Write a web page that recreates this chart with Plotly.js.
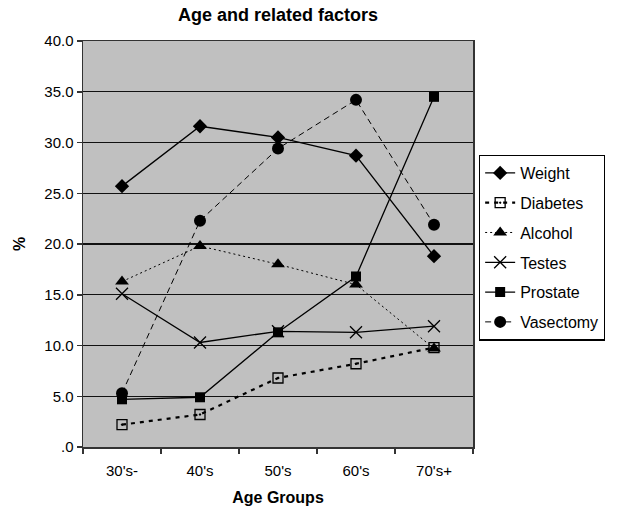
<!DOCTYPE html>
<html>
<head>
<meta charset="utf-8">
<script src="https://cdn.plot.ly/plotly-3.0.1.min.js"></script>
<style>html,body{margin:0;padding:0;background:#fff;}#chart{width:624px;height:506px;}</style>
</head>
<body>
<div id="chart"></div>
<script>
const categories = ["30's-", "40's", "50's", "60's", "70's+"];
const weight     = [25.7, 31.6, 30.5, 28.7, 18.8];
const diabetes   = [2.2, 3.2, 6.8, 8.2, 9.8];
const alcohol    = [16.3, 19.8, 18.0, 16.0, 9.7];
const testes     = [15.1, 10.3, 11.4, 11.3, 11.9];
const prostate   = [4.7, 4.9, 11.3, 16.8, 34.5];
const vasectomy  = [5.3, 22.3, 29.4, 34.2, 21.9];
const yTickVals  = [0, 5, 10, 15, 20, 25, 30, 35, 40];
const yTickText  = [".0", "5.0", "10.0", "15.0", "20.0", "25.0", "30.0", "35.0", "40.0"];

function tr(name, y, symbol, size, dash, width, mcolor, mline) {
  return {
    type: 'scatter', mode: 'lines+markers', name: name, x: categories, y: y,
    legendgroup: name,
    line: {color: '#000', dash: dash, width: width},
    marker: {symbol: symbol, size: size, color: mcolor || '#000',
             line: {color: '#000', width: mline || 0}},
    cliponaxis: false
  };
}

const data = [
  tr('Weight', weight, 'diamond', 11, 'solid', 1.3),
  tr('Diabetes', diabetes, 'square-open-dot', 10, '4px,5px', 2.2, '#000', 1.3),
  tr('Alcohol', alcohol, 'triangle-up', 12, '2px,3px', 1),
  tr('Testes', testes, 'x-thin-open', 12, 'solid', 1.3, '#000', 1.3),
  tr('Prostate', prostate, 'square', 10, 'solid', 1.3),
  tr('Vasectomy', vasectomy, 'circle', 12, '6px,4px', 1)
];

const layout = {
  width: 624, height: 506,
  margin: {l: 83, r: 151, t: 41, b: 59},
  paper_bgcolor: '#fff', plot_bgcolor: '#c0c0c0',
  font: {family: 'Liberation Sans, Arial, sans-serif', color: '#000', size: 15},
  title: {text: '<b>Age and related factors</b>', x: 0.5, xref: 'paper', xanchor: 'center', y: 0.97, yanchor: 'middle',
          font: {size: 18}},
  xaxis: {
    type: 'category', range: [-0.5, 4.5],
    showgrid: false, zeroline: false,
    showline: true, linecolor: '#333', linewidth: 1.5, mirror: true,
    ticks: 'outside', ticklen: 5, tickcolor: '#333', tickwidth: 1.5, tickson: 'boundaries',
    ticklabelstandoff: 9,
    tickfont: {size: 15},
    title: {text: '<b>Age Groups</b>', font: {size: 16}, standoff: 16}
  },
  yaxis: {
    range: [0, 40], tickvals: yTickVals, ticktext: yTickText,
    showgrid: true, gridcolor: '#111', gridwidth: 1.2, zeroline: false,
    showline: true, linecolor: '#333', linewidth: 1.5, mirror: true,
    ticks: 'outside', ticklen: 5, tickcolor: '#333', tickwidth: 1.5,
    tickfont: {size: 15},
    title: {text: '<b>%</b>', font: {size: 16}, standoff: 14}
  },
  showlegend: true,
  legend: {
    x: 1.015, xanchor: 'left', y: 0.72, yanchor: 'top',
    bgcolor: '#fff', bordercolor: '#000', borderwidth: 1.3,
    font: {size: 16}, traceorder: 'grouped', tracegroupgap: 6,
    entrywidth: 130
  }
};

Plotly.newPlot('chart', data, layout, {staticPlot: true});
</script>
</body>
</html>
